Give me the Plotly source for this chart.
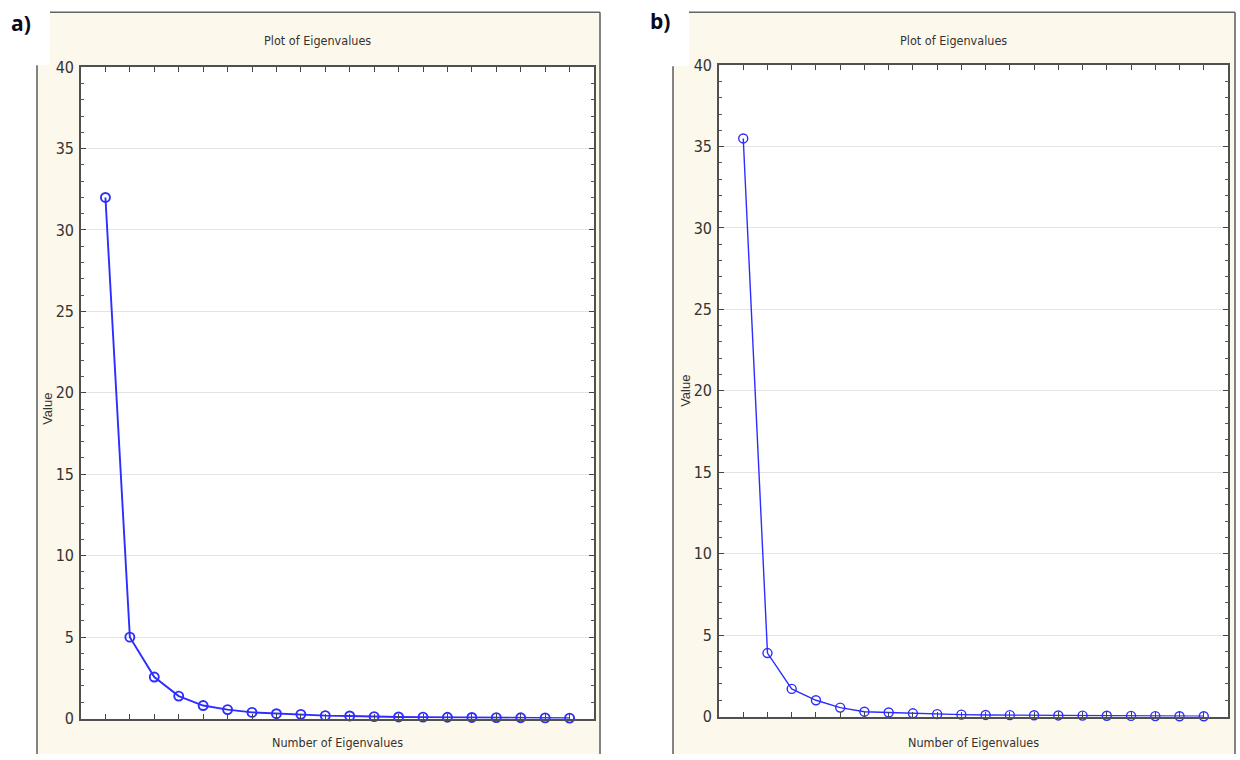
import plotly.graph_objects as go

# Scree data: eigenvalue number and eigenvalue for both analyses
eig_num = list(range(1, 21))
eig_a = [32.0, 5.0, 2.55, 1.38, 0.8, 0.55, 0.38, 0.3, 0.26, 0.18,
         0.16, 0.12, 0.1, 0.09, 0.08, 0.07, 0.06, 0.05, 0.04, 0.03]
eig_b = [35.5, 3.9, 1.7, 1.0, 0.55, 0.3, 0.25, 0.2, 0.15, 0.12,
         0.1, 0.09, 0.08, 0.07, 0.06, 0.05, 0.04, 0.03, 0.02, 0.02]
y_ticks = [0, 5, 10, 15, 20, 25, 30, 35, 40]
panel_labels = ["a)", "b)"]
plot_title = "Plot of Eigenvalues"
x_title = "Number of Eigenvalues"
y_title = "Value"

W, H = 1240, 764
# vertical layout is specified in screen rows; page offset and squeeze
ROW0, ROWSCALE = 7.8, 0.976
CREAM = "rgb(253,248,236)"
FRAME = "rgb(100,100,100)"
BLUE = "rgb(45,45,255)"
NARROW = ("Liberation Sans Narrow, Arial Narrow, DejaVu Sans Condensed, "
          "Liberation Sans, Arial")


def px(x):
    return x / W


def py(y):
    """Screen row -> paper fraction."""
    fy = (y - ROW0) / ROWSCALE
    return max(0.0, min(1.0, 1 - fy / H))


# plot rectangles in screen pixels: (left, top, right, bottom)
boxes = [(81, 66, 594, 718), (719, 64, 1228, 716)]
# cream panel frames: (left, top, right, white-corner right, white-corner bottom)
frames = [(37, 11, 600, 50, 64), (673, 11, 1235, 689, 65)]
label_pos = [(21, 22), (660, 20)]
value_y = [408, 390]
line_w = [1.9, 1.4]

fig = go.Figure()
shapes = []
annotations = []

for i, (vals, box, fr, lp, lab, vy, lw) in enumerate(
        zip([eig_a, eig_b], boxes, frames, label_pos, panel_labels,
            value_y, line_w)):
    n = "" if i == 0 else str(i + 1)
    fig.add_trace(go.Scatter(
        x=eig_num, y=vals, mode="lines+markers",
        line=dict(color=BLUE, width=lw),
        marker=dict(symbol="circle-open", size=9, color=BLUE,
                    line=dict(width=lw, color=BLUE)),
        xaxis="x" + n, yaxis="y" + n, showlegend=False,
        cliponaxis=False,
    ))
    l, t, r, b = box
    fig.update_layout(**{
        "xaxis" + n: dict(
            domain=[px(l), px(r)], range=[0, 21], anchor="y" + n,
            tickmode="array", tickvals=eig_num, showticklabels=False,
            ticks="inside", ticklen=5, tickcolor="#444", tickwidth=1,
            showgrid=False, zeroline=False,
            showline=True, linecolor="#505050", linewidth=1.6,
            mirror="ticks",
        ),
        "yaxis" + n: dict(
            domain=[py(b), py(t)], range=[0, 40], anchor="x" + n,
            tickmode="array", tickvals=y_ticks,
            ticks="inside", ticklen=5, tickcolor="#444", tickwidth=1,
            minor=dict(dtick=1, ticks="inside", ticklen=3,
                       tickcolor="#555", showgrid=False),
            showgrid=True, gridcolor="rgb(228,228,228)", gridwidth=1,
            zeroline=False,
            showline=True, linecolor="#505050", linewidth=1.6,
            mirror="ticks",
            tickfont=dict(family=NARROW, size=16, color="#333"),
            ticklabelstandoff=2,
        ),
    })

    fl, ft, fr_, wl, wb = fr
    # cream frame behind the plot
    shapes.append(dict(type="rect", xref="paper", yref="paper",
                       x0=px(fl), x1=px(fr_), y0=0, y1=py(ft),
                       fillcolor=CREAM, line=dict(width=0), layer="below"))
    # white corner holding the panel letter
    shapes.append(dict(type="rect", xref="paper", yref="paper",
                       x0=px(fl - 2), x1=px(wl), y0=py(wb), y1=1,
                       fillcolor="white", line=dict(width=0), layer="below"))
    # white plot area
    shapes.append(dict(type="rect", xref="paper", yref="paper",
                       x0=px(l), x1=px(r), y0=py(b), y1=py(t),
                       fillcolor="white", line=dict(width=0), layer="below"))
    # frame outline: top, right, left
    shapes.append(dict(type="line", xref="paper", yref="paper",
                       x0=px(wl), x1=px(fr_), y0=py(ft), y1=py(ft),
                       line=dict(color=FRAME, width=1.6), layer="below"))
    shapes.append(dict(type="line", xref="paper", yref="paper",
                       x0=px(fr_), x1=px(fr_), y0=0, y1=py(ft),
                       line=dict(color=FRAME, width=1.6), layer="below"))
    shapes.append(dict(type="line", xref="paper", yref="paper",
                       x0=px(fl), x1=px(fl), y0=0, y1=py(wb),
                       line=dict(color=FRAME, width=1.6), layer="below"))

    cx = (l + r) / 2
    annotations += [
        dict(text=plot_title, x=px(cx - 20), y=py(39), xref="paper",
             yref="paper", showarrow=False, xanchor="center",
             yanchor="middle",
             font=dict(family=NARROW, size=12.5, color="#333")),
        dict(text=x_title, x=px(cx), y=py(742), xref="paper", yref="paper",
             showarrow=False, xanchor="center", yanchor="middle",
             font=dict(family=NARROW, size=12.5, color="#333")),
        dict(text=y_title, x=px(l - 33), y=py(vy),
             xref="paper", yref="paper", showarrow=False, textangle=-90,
             xanchor="center", yanchor="middle",
             font=dict(family="Liberation Sans, Arial", size=13,
                       color="#333")),
        dict(text="<b>%s</b>" % lab, x=px(lp[0]), y=py(lp[1]),
             xref="paper", yref="paper", showarrow=False,
             xanchor="center", yanchor="middle",
             font=dict(family="Open Sans, Lato, Arial", size=21,
                       color="rgb(10,10,30)")),
    ]

fig.update_layout(
    width=W, height=H, margin=dict(l=0, r=0, t=0, b=0),
    paper_bgcolor="white", plot_bgcolor="rgba(0,0,0,0)",
    shapes=shapes, annotations=annotations,
)

fig.write_html("out.html")
